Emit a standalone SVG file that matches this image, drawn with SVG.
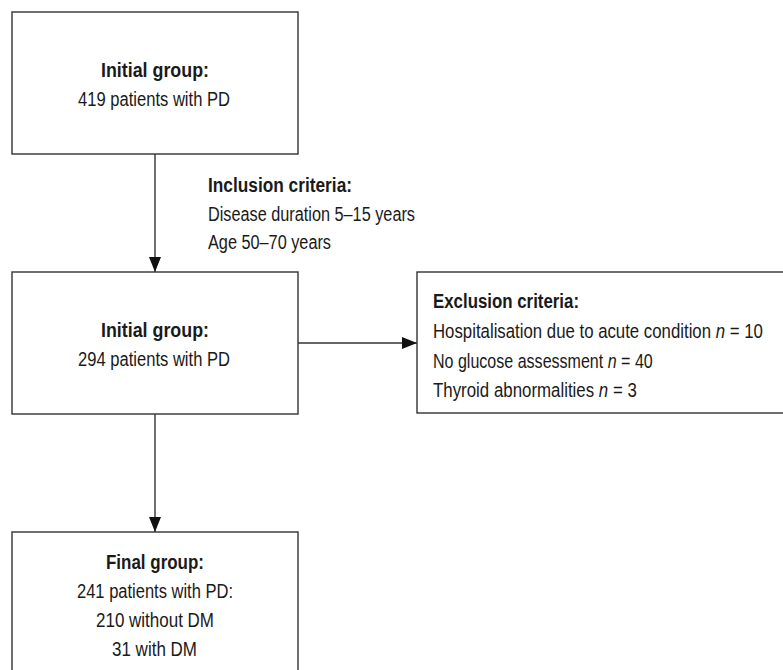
<svg xmlns="http://www.w3.org/2000/svg" width="783" height="670" viewBox="0 0 783 670">
  <style>
    .box { fill: #ffffff; stroke: #333333; stroke-width: 1.4; }
    .edge { stroke: #333333; stroke-width: 1.4; fill: none; }
    text { font-family: "Liberation Sans", Arial, sans-serif; font-size: 19.5px; fill: #1a1a1a; }
    .b { font-weight: bold; }
    .c { text-anchor: middle; }
    .i { font-style: italic; }
  </style>
  <defs>
    <marker id="arrow" markerUnits="userSpaceOnUse" markerWidth="15" markerHeight="12" refX="15" refY="6" orient="auto">
      <path d="M0,0 L15,6 L0,12 z" fill="#111111"/>
    </marker>
  </defs>
  <rect width="783" height="670" fill="#ffffff"/>

  <g id="connectors">
    <line class="edge" x1="155" y1="154" x2="155" y2="272" marker-end="url(#arrow)"/>
    <line class="edge" x1="155" y1="414" x2="155" y2="532" marker-end="url(#arrow)"/>
    <line class="edge" x1="298" y1="343" x2="417" y2="343" marker-end="url(#arrow)"/>
  </g>

  <g id="node-initial-419">
    <rect class="box" x="12" y="12" width="286" height="142"/>
    <text class="b c" x="155" y="77" textLength="108" lengthAdjust="spacingAndGlyphs">Initial group:</text>
    <text class="c" x="154" y="106" textLength="152" lengthAdjust="spacingAndGlyphs">419 patients with PD</text>
  </g>

  <g id="label-inclusion">
    <text class="b" x="208" y="192" textLength="144" lengthAdjust="spacingAndGlyphs">Inclusion criteria:</text>
    <text x="208" y="221" textLength="207" lengthAdjust="spacingAndGlyphs">Disease duration 5–15 years</text>
    <text x="208" y="249" textLength="123" lengthAdjust="spacingAndGlyphs">Age 50–70 years</text>
  </g>

  <g id="node-initial-294">
    <rect class="box" x="12" y="272" width="286" height="142"/>
    <text class="b c" x="155" y="337" textLength="108" lengthAdjust="spacingAndGlyphs">Initial group:</text>
    <text class="c" x="154" y="366" textLength="152" lengthAdjust="spacingAndGlyphs">294 patients with PD</text>
  </g>

  <g id="node-exclusion">
    <rect class="box" x="417" y="272" width="380" height="141"/>
    <text class="b" x="433" y="308" textLength="146" lengthAdjust="spacingAndGlyphs">Exclusion criteria:</text>
    <text transform="translate(433,338) scale(0.861,1)" x="0" y="0">Hospitalisation due to acute condition <tspan class="i">n</tspan> = 10</text>
    <text transform="translate(433,368) scale(0.823,1)" x="0" y="0">No glucose assessment <tspan class="i">n</tspan> = 40</text>
    <text transform="translate(433,397) scale(0.865,1)" x="0" y="0">Thyroid abnormalities <tspan class="i">n</tspan> = 3</text>
  </g>

  <g id="node-final">
    <rect class="box" x="12" y="532" width="286" height="150"/>
    <text class="b c" x="155" y="569" textLength="98" lengthAdjust="spacingAndGlyphs">Final group:</text>
    <text class="c" x="155" y="598" textLength="156" lengthAdjust="spacingAndGlyphs">241 patients with PD:</text>
    <text class="c" x="155" y="627" textLength="118" lengthAdjust="spacingAndGlyphs">210 without DM</text>
    <text class="c" x="154.5" y="656" textLength="85" lengthAdjust="spacingAndGlyphs">31 with DM</text>
  </g>
</svg>
